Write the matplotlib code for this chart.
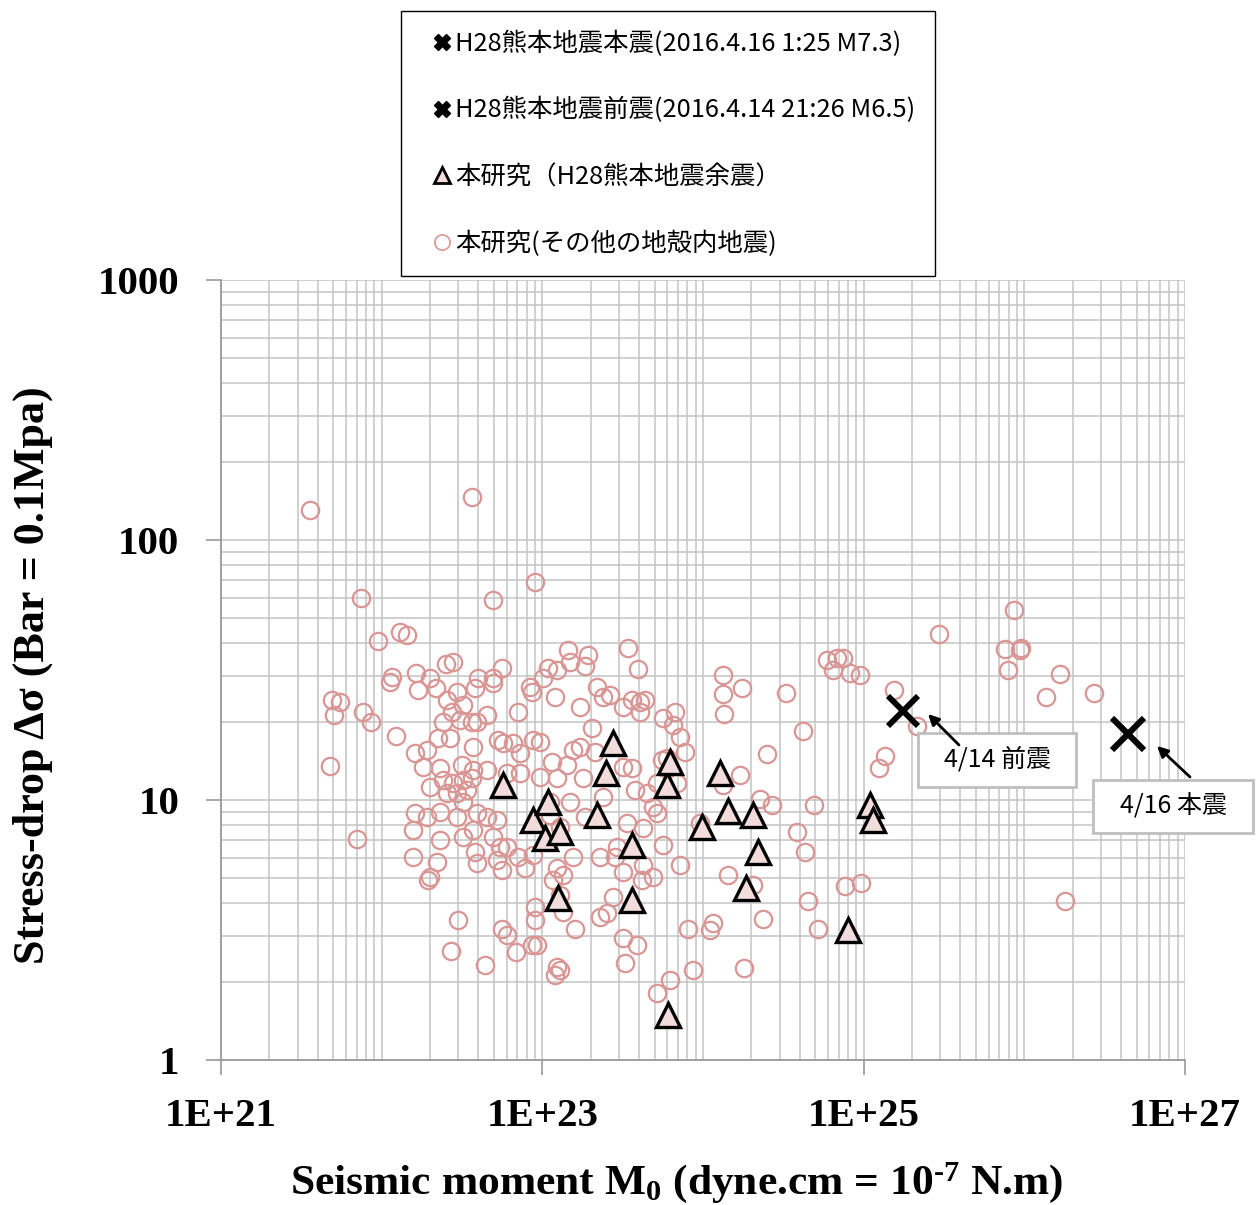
import numpy as np
import matplotlib
matplotlib.use("Agg")
import matplotlib.pyplot as plt
from matplotlib.lines import Line2D
from matplotlib.patches import Rectangle
from matplotlib.ticker import LogLocator, NullFormatter

# ---------------- data ----------------
# other crustal earthquakes (this study): seismic moment [dyne.cm], stress drop [bar]
other_m0 = [
    3.58e21, 3.65e22, 7.43e21, 4.93e22, 1.30e22, 1.44e22, 9.5e21, 1.16e22, 1.63e22, 2.0e22,
    2.51e22, 2.78e22, 3.97e22, 4.93e22, 5.6e22,
    4.9e21, 5.5e21, 5.05e21, 7.6e21, 8.6e21, 1.23e22, 4.77e21, 7.0e21, 1.13e22, 1.68e22,
    2.18e22, 2.55e22, 2.94e22, 3.8e22, 4.93e22, 2.4e22, 2.74e22, 3.2e22, 3.07e22, 3.65e22,
    4.5e22, 3.92e22, 5.3e22, 5.7e22, 2.24e22, 2.66e22, 3.7e22, 1.61e22, 1.91e22, 1.8e22,
    2.3e22, 3.16e22, 3.7e22, 4.5e22, 2.0e22, 2.4e22, 2.78e22, 3.2e22, 3.65e22, 2.55e22,
    2.94e22, 3.4e22, 3.2e22, 1.61e22, 1.91e22, 2.3e22, 2.94e22, 3.92e22, 4.5e22, 5.2e22,
    1.57e22, 2.3e22, 3.2e22, 3.7e22, 4.93e22, 5.45e22, 1.57e22, 2.2e22, 3.8e22, 5.2e22,
    5.6e22, 2.0e22,
    3.92e22, 1.94e22, 3.0e22, 5.6e22, 6.0e22, 2.7e22, 4.4e22,
    9.0e22, 1.45e23, 1.93e23, 1.49e23, 1.84e23, 1.08e23, 1.23e23, 3.4e23, 3.94e23, 1.01e23,
    8.4e22, 8.6e22, 1.2e23, 2.19e23, 2.39e23, 2.64e23, 1.72e23, 3.18e23, 3.6e23, 4.06e23,
    4.36e23, 4.06e23, 7.05e22, 5.6e23, 6.7e23,
    2.04e23, 6.55e22, 8.7e22, 9.7e22, 7.25e22, 1.55e23, 1.72e23, 1.15e23, 1.42e23, 2.13e23,
    3.18e23, 3.6e23, 5.55e23, 6.0e23, 7.7e23, 7.2e23, 6.5e23, 6.0e22, 7.25e22, 9.7e22,
    1.23e23, 1.79e23, 3.78e23, 4.48e23, 5.17e23, 6.9e23, 4.89e23, 1.12e23, 1.49e23, 2.39e23,
    1.84e23, 1.12e23, 4.23e23, 3.37e23, 5.17e23, 1.29e23, 6.0e22, 7.05e22, 8.7e22, 1.55e23,
    2.29e23, 2.92e23, 2.84e23, 4.23e23, 7.2e23, 5.6e23, 9.6e23, 7.8e22, 1.23e23, 3.18e23,
    1.17e23, 1.35e23, 1.29e23, 9.0e22, 9.0e22, 1.35e23, 1.6e23, 6.9e22, 8.6e22, 9.2e22,
    1.23e23, 1.29e23, 1.2e23, 2.29e23, 2.53e23, 2.75e23, 3.18e23, 3.88e23, 3.28e23, 4.17e23,
    4.89e23, 8.1e23, 6.2e23, 5.17e23, 8.7e23,
    1.33e24, 1.75e24, 1.33e24, 1.35e24, 3.28e24, 4.19e24, 2.5e24, 1.7e24, 1.33e24, 2.26e24,
    2.69e24, 4.9e24, 3.85e24, 5.9e24, 6.8e24, 7.4e24, 6.45e24, 8.2e24, 9.5e24,
    4.3e24, 1.43e24, 2.05e24, 1.15e24, 1.1e24, 2.36e24, 4.5e24, 5.2e24, 7.6e24, 9.6e24,
    1.8e24,
    8.6e25, 2.94e25, 7.6e25, 9.5e25, 9.4e25, 7.9e25, 1.67e26, 1.36e26, 2.72e26, 1.54e25,
    2.15e25, 1.36e25, 1.25e25, 1.79e26,
]
other_sd = [
    131, 146, 60, 58.7, 44.3, 43, 40.8, 29.7, 30.8, 29.4,
    33.3, 34, 29.4, 29.4, 32.2,
    24.2, 23.8, 21.2, 21.8, 20.0, 17.6, 13.5, 7.07, 28.4, 26.5,
    27, 24.2, 26, 27, 28.2, 20, 21.8, 23.2, 20.3, 20,
    21.2, 20, 17, 16.6, 17.3, 17.3, 16, 15.2, 15.6, 13.4,
    13.3, 13.6, 13, 13, 11.2, 11.9, 11.6, 11.9, 12.2, 10.6,
    10.6, 10.9, 9.8, 8.9, 8.6, 9.0, 8.6, 8.9, 8.6, 8.35,
    7.65, 7.0, 7.2, 7.65, 7.2, 6.6, 6.03, 5.77, 6.3, 5.87,
    5.37, 5.06,
    5.7, 4.92, 3.45, 3.2, 3.02, 2.63, 2.32,
    69, 37.7, 36, 34, 32.7, 32.2, 31.6, 38.4, 31.9, 29.4,
    27.2, 26, 24.9, 27.2, 24.9, 25.3, 22.8, 22.8, 24.2, 23.8,
    24.2, 21.8, 21.8, 20.7, 21.8,
    18.9, 16.6, 17, 16.7, 15.2, 15.6, 16, 14, 13.6, 15.3,
    13.4, 13.3, 14.2, 14.5, 15.3, 17.5, 19.4, 12.7, 12.7, 12.3,
    12.2, 12.2, 10.9, 10.6, 11.6, 11.6, 9.4, 9.8, 9.8, 10.3,
    8.6, 8.75, 7.8, 8.15, 8.9, 7.9, 6.6, 6.03, 6.15, 6.03,
    6.03, 6.6, 6.03, 5.6, 5.6, 6.7, 8.15, 5.5, 5.5, 5.28,
    4.92, 5.15, 4.3, 3.88, 3.45, 3.7, 3.2, 2.6, 2.77, 2.77,
    2.28, 2.22, 2.12, 3.55, 3.67, 4.24, 2.94, 2.77, 2.36, 4.92,
    5.06, 3.2, 2.03, 1.81, 2.22,
    30.2, 27, 25.6, 21.4, 25.8, 18.4, 15, 12.5, 11.4, 10.1,
    9.57, 9.57, 7.5, 34.5, 35.2, 35.2, 31.6, 30.8, 30.2,
    6.3, 5.15, 4.7, 3.36, 3.16, 3.48, 4.1, 3.19, 4.67, 4.8,
    2.26,
    54, 43.5, 38, 38.4, 37.7, 31.6, 30.6, 25, 25.8, 26.5,
    19.3, 14.8, 13.3, 4.1,
]

# H28 Kumamoto aftershocks (this study)
after_m0 = [5.7e22, 8.7e22, 1.04e23, 1.08e23, 1.29e23, 1.25e23, 2.19e23, 2.49e23, 2.75e23, 3.6e23,
            3.6e23, 6.0e23, 6.2e23, 6.06e23, 9.8e23, 1.28e24, 1.43e24, 2.05e24, 2.2e24, 1.85e24,
            8.0e24, 1.09e25, 1.14e25]
after_sd = [11.4, 8.35, 7.14, 9.8, 7.5, 4.2, 8.75, 12.7, 16.6, 6.7,
            4.12, 11.4, 14.0, 1.49, 7.9, 12.7, 9.1, 8.75, 6.3, 4.6,
            3.16, 9.57, 8.35]

# mainshock / foreshock
main_m0, main_sd = [4.4e26], [17.9]
fore_m0, fore_sd = [1.76e25], [22.0]

x_ticks = [1e21, 1e23, 1e25, 1e27]
x_ticklabels = ['1E+21', '1E+23', '1E+25', '1E+27']
y_ticks = [1, 10, 100, 1000]
y_ticklabels = ['1', '10', '100', '1000']

legend_labels = ['H28熊本地震本震(2016.4.16 1:25 M7.3)',
                 'H28熊本地震前震(2016.4.14 21:26 M6.5)',
                 '本研究（H28熊本地震余震）',
                 '本研究(その他の地殻内地震)']
note_fore = '4/14 前震'
note_main = '4/16 本震'

# ---------------- style ----------------
plt.rcParams['mathtext.fontset'] = 'custom'
plt.rcParams['mathtext.rm'] = 'Liberation Serif:bold'
plt.rcParams['mathtext.it'] = 'Liberation Serif:bold'
plt.rcParams['mathtext.bf'] = 'Liberation Serif:bold'
plt.rcParams['mathtext.default'] = 'rm'

CJK = ['Noto Sans CJK JP', 'DejaVu Sans']
SERIF = ['Liberation Serif', 'DejaVu Serif']
circle_col = '#D99694'
tri_face = '#F2DCDB'
grid_col = '#C3C3C3'
axis_col = '#9A9A9A'

W, H = 1258, 1205
fig = plt.figure(figsize=(W / 100, H / 100), dpi=100)
ax = fig.add_axes([221 / W, 1 - 1060 / H, (1185 - 221) / W, (1060 - 280) / H])


def ax_frac(px, py):
    return ((px - 221) / 964, (1060 - py) / 780)


ax.set_xscale('log')
ax.set_yscale('log')
ax.set_xlim(1e21, 1e27)
ax.set_ylim(1, 1000)

ax.plot(other_m0, other_sd, linestyle='none', marker='o', ms=12.5, mfc='none',
        mec=circle_col, mew=1.6, zorder=3)
ax.plot(after_m0, after_sd, linestyle='none', marker='^', ms=17, mfc=tri_face,
        mec='black', mew=2.4, zorder=4)
ax.plot(fore_m0, fore_sd, linestyle='none', marker='x', ms=21, mec='black', mew=4.2, zorder=5)
ax.plot(main_m0, main_sd, linestyle='none', marker='x', ms=23, mec='black', mew=4.4, zorder=5)

# ticks & grid
ax.set_xticks(x_ticks, x_ticklabels)
ax.set_yticks(y_ticks, y_ticklabels)
ax.xaxis.set_minor_locator(LogLocator(base=10, subs=np.arange(1, 10), numticks=100))
ax.yaxis.set_minor_locator(LogLocator(base=10, subs=np.arange(1, 10), numticks=100))
ax.xaxis.set_minor_formatter(NullFormatter())
ax.yaxis.set_minor_formatter(NullFormatter())
ax.tick_params(which='major', direction='out', length=11, width=1.2, color=axis_col,
               labelsize=29.5, pad=16)
ax.tick_params(axis='y', which='major', pad=19)
ax.tick_params(which='minor', length=0)
for lab in ax.get_xticklabels() + ax.get_yticklabels():
    lab.set_fontfamily(SERIF)
    lab.set_fontweight('bold')
ax.grid(which='both', color=grid_col, lw=1.1, zorder=0)
ax.set_axisbelow(True)
for s in ['top', 'right']:
    ax.spines[s].set_visible(False)
for s in ['left', 'bottom']:
    ax.spines[s].set_color(axis_col)
    ax.spines[s].set_linewidth(1.3)

ax.set_xlabel(r'Seismic moment M$_{0}$ (dyne.cm = 10$^{\text{-}7}$ N.m)', fontsize=31.3,
              fontfamily=SERIF, fontweight='bold')
ax.xaxis.label.set_va('center')
ax.xaxis.set_label_coords((677 - 221) / 964, (1060 - 1183) / 780)
ax.set_ylabel('Stress-drop Δσ (Bar = 0.1Mpa)', fontsize=31.8, fontfamily=SERIF,
              fontweight='bold')
ax.yaxis.label.set_va('center')
ax.yaxis.set_label_coords((33 - 221) / 964, (1060 - 675) / 780)

# annotations (boxes + text + arrows)
for (x0, y0, x1, y1), txt in [((918, 733, 1076, 787), note_fore),
                              ((1093, 780, 1253, 833), note_main)]:
    fx0, fy1 = ax_frac(x0, y1)
    fx1, fy0 = ax_frac(x1, y0)
    ax.add_patch(Rectangle((fx0, fy1), fx1 - fx0, fy0 - fy1, transform=ax.transAxes,
                           fc='white', ec='#BFBFBF', lw=2, zorder=6, clip_on=False))
    cx, cy = ax_frac((x0 + x1) / 2, (y0 + y1) / 2)
    ax.text(cx, cy, txt, transform=ax.transAxes, ha='center', va='center',
            fontsize=18, fontfamily=CJK, zorder=7, clip_on=False)

arrow_kw = dict(arrowstyle='-|>', color='black', lw=2, mutation_scale=16, shrinkA=0, shrinkB=0)
ax.annotate('', xy=ax_frac(928, 714), xycoords='axes fraction',
            xytext=ax_frac(959, 745), textcoords='axes fraction',
            arrowprops=arrow_kw, zorder=8, annotation_clip=False)
ax.annotate('', xy=ax_frac(1157, 746), xycoords='axes fraction',
            xytext=ax_frac(1190, 777), textcoords='axes fraction',
            arrowprops=arrow_kw, zorder=8, annotation_clip=False)

# legend
handles = [
    Line2D([], [], linestyle='none', marker='X', ms=12, mfc='black', mec='black'),
    Line2D([], [], linestyle='none', marker='X', ms=12, mfc='black', mec='black'),
    Line2D([], [], linestyle='none', marker='^', ms=11, mfc=tri_face, mec='black', mew=2),
    Line2D([], [], linestyle='none', marker='o', ms=11, mfc='none', mec=circle_col, mew=1.2),
]
leg = fig.legend(handles, legend_labels, loc='upper left',
                 bbox_to_anchor=(401 / W, 1 - 11 / H), bbox_transform=fig.transFigure,
                 prop={'family': CJK, 'size': 18.3}, frameon=True, fancybox=False,
                 edgecolor='black', framealpha=1, borderpad=0.76, labelspacing=1.6,
                 handlelength=1.7, handletextpad=-0.33, borderaxespad=0)
leg.get_frame().set_linewidth(1.0)

fig.savefig('out.png', dpi=100)
